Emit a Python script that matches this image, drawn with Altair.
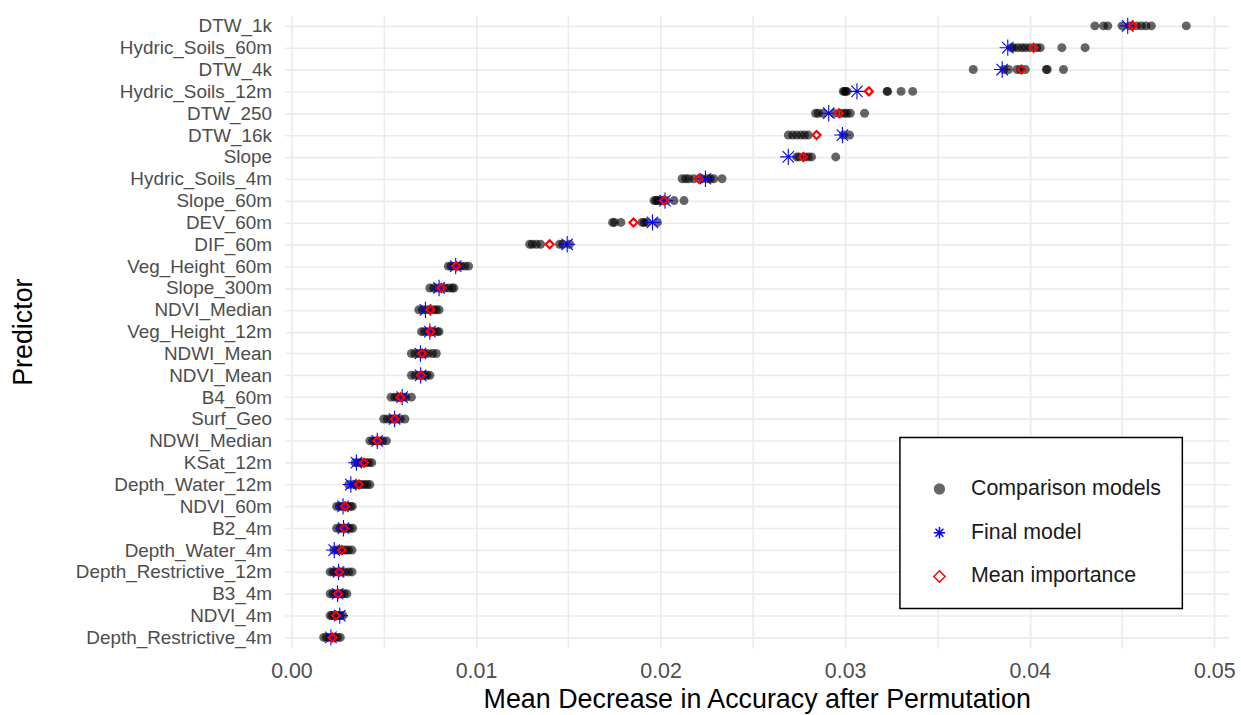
import altair as alt
import pandas as pd

predictors = [
    "DTW_1k", "Hydric_Soils_60m", "DTW_4k", "Hydric_Soils_12m", "DTW_250",
    "DTW_16k", "Slope", "Hydric_Soils_4m", "Slope_60m", "DEV_60m", "DIF_60m",
    "Veg_Height_60m", "Slope_300m", "NDVI_Median", "Veg_Height_12m", "NDWI_Mean",
    "NDVI_Mean", "B4_60m", "Surf_Geo", "NDWI_Median", "KSat_12m",
    "Depth_Water_12m", "NDVI_60m", "B2_4m", "Depth_Water_4m",
    "Depth_Restrictive_12m", "B3_4m", "NDVI_4m", "Depth_Restrictive_4m",
]

comparison = [
    [0.04353, 0.04400, 0.04423, 0.04500, 0.04540, 0.04580, 0.04605, 0.04630, 0.04659, 0.04848],
    [0.03900, 0.03913, 0.03935, 0.03958, 0.03976, 0.04000, 0.04039, 0.04057, 0.04174, 0.04300],
    [0.03694, 0.03860, 0.03885, 0.03932, 0.03950, 0.03976, 0.04090, 0.04095, 0.04183],
    [0.02990, 0.02997, 0.03003, 0.03010, 0.03227, 0.03230, 0.03303, 0.03366],
    [0.02840, 0.02854, 0.02880, 0.02940, 0.02975, 0.02996, 0.03010, 0.03028, 0.03105],
    [0.02692, 0.02715, 0.02737, 0.02760, 0.02780, 0.02800, 0.02990, 0.03024],
    [0.02737, 0.02750, 0.02780, 0.02800, 0.02818, 0.02949],
    [0.02117, 0.02136, 0.02153, 0.02180, 0.02225, 0.02255, 0.02270, 0.02288, 0.02333],
    [0.01965, 0.01975, 0.01983, 0.01995, 0.02010, 0.02030, 0.02073, 0.02127],
    [0.01740, 0.01750, 0.01785, 0.01900, 0.01911, 0.01925, 0.01983],
    [0.01291, 0.01305, 0.01327, 0.01350, 0.01453, 0.01470, 0.01507],
    [0.00850, 0.00865, 0.00880, 0.00895, 0.00905, 0.00920, 0.00940, 0.00960],
    [0.00750, 0.00770, 0.00790, 0.00810, 0.00830, 0.00850, 0.00870, 0.00880],
    [0.00690, 0.00710, 0.00730, 0.00750, 0.00770, 0.00785, 0.00800],
    [0.00705, 0.00720, 0.00740, 0.00755, 0.00770, 0.00790, 0.00800],
    [0.00650, 0.00670, 0.00690, 0.00705, 0.00720, 0.00740, 0.00765, 0.00785],
    [0.00650, 0.00670, 0.00690, 0.00705, 0.00720, 0.00735, 0.00750],
    [0.00540, 0.00560, 0.00575, 0.00590, 0.00605, 0.00620, 0.00650],
    [0.00500, 0.00520, 0.00540, 0.00555, 0.00570, 0.00590, 0.00615],
    [0.00425, 0.00440, 0.00455, 0.00465, 0.00480, 0.00495, 0.00515],
    [0.00345, 0.00360, 0.00375, 0.00390, 0.00405, 0.00420, 0.00435],
    [0.00310, 0.00335, 0.00350, 0.00365, 0.00380, 0.00395, 0.00410, 0.00425],
    [0.00245, 0.00260, 0.00275, 0.00290, 0.00305, 0.00320, 0.00330],
    [0.00245, 0.00262, 0.00278, 0.00290, 0.00305, 0.00318, 0.00332],
    [0.00230, 0.00250, 0.00265, 0.00280, 0.00295, 0.00310, 0.00328],
    [0.00210, 0.00225, 0.00240, 0.00255, 0.00270, 0.00290, 0.00310, 0.00328],
    [0.00210, 0.00225, 0.00240, 0.00255, 0.00270, 0.00285, 0.00300],
    [0.00210, 0.00220, 0.00232, 0.00245, 0.00255, 0.00265, 0.00280],
    [0.00175, 0.00190, 0.00205, 0.00220, 0.00235, 0.00250, 0.00265],
]

final_model = [
    0.04531, 0.03881, 0.03851, 0.03064, 0.02911, 0.02985, 0.02692, 0.02243,
    0.02024, 0.01956, 0.01494, 0.00890, 0.00800, 0.00726, 0.00750, 0.00699,
    0.00700, 0.00600, 0.00559, 0.00465, 0.00352, 0.00322, 0.00280, 0.00282,
    0.00232, 0.00255, 0.00250, 0.00262, 0.00214,
]

mean_importance = [
    0.04557, 0.04021, 0.03955, 0.03129, 0.02967, 0.02845, 0.02773, 0.02207,
    0.02019, 0.01853, 0.01399, 0.00893, 0.00812, 0.00753, 0.00753, 0.00708,
    0.00702, 0.00591, 0.00559, 0.00465, 0.00393, 0.00366, 0.00291, 0.00286,
    0.00273, 0.00259, 0.00253, 0.00241, 0.00223,
]

x_ticks = [0.0, 0.005, 0.01, 0.015, 0.02, 0.025, 0.03, 0.035, 0.04, 0.045, 0.05]
types = ["Comparison models", "Final model", "Mean importance"]

sizes = {"Comparison models": 81, "Final model": 270, "Mean importance": 64}
widths = {"Comparison models": 0, "Final model": 1.1, "Mean importance": 2.2}

rows = []
for p, comps in zip(predictors, comparison):
    for v in comps:
        rows.append({"predictor": p, "value": v, "type": types[0]})
for p, v in zip(predictors, final_model):
    rows.append({"predictor": p, "value": v, "type": types[1]})
for p, v in zip(predictors, mean_importance):
    rows.append({"predictor": p, "value": v, "type": types[2]})
df = pd.DataFrame(rows)
df["sz"] = df["type"].map(sizes)
df["sw"] = df["type"].map(widths)

asterisk = "M0,-1L0,1M-1,0L1,0M-0.7,-0.7L0.7,0.7M-0.7,0.7L0.7,-0.7"
FONT = "Liberation Sans"

leg = alt.Legend(orient="none", legendX=619, legendY=425, title=" ")

chart = alt.Chart(df).mark_point(filled=True, opacity=1).encode(
    x=alt.X(
        "value:Q",
        scale=alt.Scale(domain=[-0.00038, 0.0508], nice=False, zero=False),
        axis=alt.Axis(
            values=x_ticks,
            labelExpr="abs(round(datum.value*1000) % 10) == 0 ? format(datum.value, '.2f') : ''",
            title="Mean Decrease in Accuracy after Permutation",
            grid=True, ticks=False, tickSize=0, domain=False, labelFlush=False,
            labelPadding=12, titlePadding=5, labelFontSize=21.5,
        ),
    ),
    y=alt.Y(
        "predictor:N",
        sort=predictors,
        scale=alt.Scale(type="point", padding=0.5),
        axis=alt.Axis(
            title="Predictor", grid=True, ticks=False, tickSize=0, domain=False,
            labelPadding=13, titlePadding=48, labelFontSize=19, labelLimit=400,
        ),
    ),
    shape=alt.Shape("type:N", scale=alt.Scale(domain=types, range=["circle", asterisk, "diamond"]), legend=leg),
    fill=alt.Fill("type:N", scale=alt.Scale(domain=types, range=["rgba(0,0,0,0.6)", "transparent", "transparent"]), legend=leg),
    stroke=alt.Stroke("type:N", scale=alt.Scale(domain=types, range=["transparent", "#0000FF", "#FF0000"]), legend=leg),
    size=alt.Size("sz:Q", scale=None),
    strokeWidth=alt.StrokeWidth("sw:Q", scale=None),
).properties(
    width=950, height=637,
    padding={"left": 10, "top": 13, "right": 5, "bottom": 0},
).configure_view(
    stroke=None,
).configure_axis(
    gridColor="#EBEBEB", gridWidth=1.6,
    labelFont=FONT, labelColor="#4D4D4D",
    titleFont=FONT, titleFontSize=27, titleColor="#000000", titleFontWeight="normal",
    labelOverlap=False,
).configure_legend(
    padding=21, labelFont=FONT, labelFontSize=21.5, labelColor="#1A1A1A", labelLimit=400,
    titleFontSize=14, titlePadding=6, rowPadding=21,
    symbolSize=130, symbolStrokeWidth=1.5, symbolOffset=8, labelOffset=21,
    strokeColor="#000000", strokeWidth=1.5, fillColor="#FFFFFF", cornerRadius=0,
)

chart.save("out.html", embed_options={"renderer": "svg", "actions": False})
